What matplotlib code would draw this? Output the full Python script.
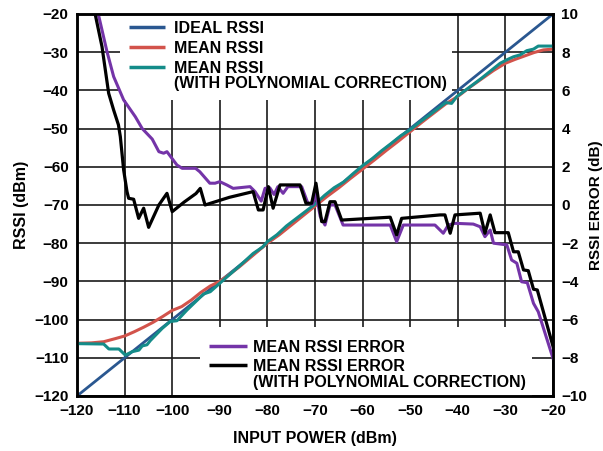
import matplotlib
matplotlib.use("Agg")
import matplotlib.pyplot as plt
from matplotlib.patches import Rectangle

plt.rcParams['font.family'] = ['Liberation Sans', 'DejaVu Sans']
plt.rcParams['font.weight'] = 'bold'

# ideal response
ideal_x = [-120, -20]
ideal_y = [-120, -20]

# mean RSSI (dBm)
mean_x = [-120, -117, -114.4, -112, -110, -108, -106, -104, -102, -100, -98, -96, -94, -92,
          -90, -88, -86, -84, -82, -80, -77.5, -75, -72.5, -70, -67.5, -65, -62.5, -60,
          -57.5, -55, -52.5, -50, -47.5, -45, -42.5, -40, -37.5, -35, -32.5, -30, -28,
          -26, -24, -22, -20]
mean_y = [-106.2, -106.1, -105.8, -105.0, -104.3, -103.2, -102.0, -100.7, -99.2, -97.6,
          -96.6, -94.9, -92.9, -91.2, -90.0, -88.2, -86.3, -84.2, -82.1, -80.0, -77.8,
          -75.3, -72.8, -70.3, -67.8, -65.5, -63.0, -60.6, -58.2, -55.7, -53.3, -50.8,
          -48.3, -45.9, -43.5, -41.6, -39.2, -37.0, -34.8, -32.9, -31.9, -31.0, -30.1,
          -29.4, -29.2]

# mean RSSI with polynomial correction (dBm)
poly_x = [-120, -114.4, -113.3, -111.2, -109.85, -108.4, -107, -106.3, -105.3, -104.6,
          -102.1, -100.4, -99, -96.9, -93.4, -92, -89.2, -87, -85, -83, -81, -80, -78,
          -76, -74, -72, -70, -68, -66, -64, -62, -60, -58, -56, -54, -52, -50, -48,
          -46, -44, -42.5, -41.3, -40.2, -38, -35, -32.9, -31.1, -29.7, -28.3, -26.9,
          -25.5, -24.1, -23.1, -20]
poly_y = [-106.3, -106.4, -107.7, -107.7, -109.3, -108.4, -108.0, -106.9, -106.6, -105.5,
          -102.3, -100.5, -100.3, -97.5, -93.3, -92.7, -89.6, -87.2, -85.0, -82.7, -81.0,
          -79.6, -77.8, -75.5, -73.6, -71.7, -69.8, -67.5, -65.5, -64.0, -61.8, -59.7,
          -57.9, -55.8, -53.9, -51.9, -50.3, -48.3, -46.5, -44.6, -43.2, -43.4, -41.6,
          -39.6, -36.8, -34.7, -32.9, -32.0, -31.2, -30.7, -29.6, -29.2, -28.4, -28.4]

# mean RSSI error (dB)
err_x = [-116.5, -115.4, -113.7, -112.3, -110.2, -107.75, -106.3, -104.2, -102.8, -101.8,
         -101.1, -99.0, -97.9, -95.1, -94.2, -92.1, -91.0, -90.0, -88.55, -87.2, -83.65,
         -82.6, -81.3, -80.5, -79.5, -78.6, -77.8, -76.7, -75.7, -72.8, -71.5, -70.5,
         -69.8, -68.9, -67.9, -66.85, -65.8, -64.1, -54.2, -52.85, -51.45, -44.8, -43.05,
         -42.0, -40.6, -36.75, -35.3, -34.3, -33.2, -32.5, -29.7, -28.7, -27.6, -26.6,
         -25.4, -24.1, -23.1, -20]
err_y = [10.5, 9.86, 8.03, 6.72, 5.5, 4.62, 4.0, 3.45, 2.79, 2.71, 2.79, 2.09, 1.92, 1.92,
         1.74, 1.14, 1.14, 1.22, 1.05, 0.87, 0.96, 0.70, 0.2, 0.87, 0.9, 0.55, 0.96, 0.61,
         0.96, 0.96, 0.09, 0.05, 0.6, -0.6, -1.05, 0.0, 0.0, -1.05, -1.05, -1.92, -1.05,
         -1.05, -1.48, -1.05, -0.96, -1.0, -1.14, -1.66, -1.31, -2.0, -2.09, -2.88, -3.05,
         -4.02, -4.07, -5.15, -5.59, -8.03]

# mean RSSI error with polynomial correction (dB)
perr_x = [-116.6, -116.15, -114.75, -113.35, -112.3, -111.3, -110.9, -110.2, -109.5,
          -109.15, -108.1, -107.05, -106.0, -104.95, -102.8, -101.1, -100.0, -97.5, -95,
          -94.1, -93.1, -88, -83, -81.9, -80.9, -79.8, -78.8, -77.35, -73.15, -71.9,
          -70.7, -69.8, -68.6, -67.9, -66.85, -65.8, -64.4, -54.2, -52.85, -51.8, -43.7,
          -42.7, -41.6, -40.6, -35.3, -34.3, -33.2, -32.2, -29.4, -28.3, -27.3, -26.2,
          -25.2, -24.1, -23.3, -20]
perr_y = [10.3, 9.95, 8.29, 5.85, 4.97, 4.2, 3.58, 1.83, 0.70, 0.35, 0.30, -0.70, -0.17,
          -1.17, 0.0, 0.61, -0.35, 0.15, 0.6, 0.87, 0.0, 0.4, 0.7, -0.26, -0.26, 0.96,
          -0.17, 1.05, 1.05, 0.09, 0.09, 1.14, -0.87, -0.87, 0.17, 0.17, -0.79, -0.64,
          -1.57, -0.70, -0.52, -0.52, -1.48, -0.52, -0.43, -1.48, -0.52, -1.45, -1.45,
          -2.45, -2.45, -3.40, -3.44, -4.41, -4.45, -7.4]

x_ticks = list(range(-120, -19, 10))
rssi_ticks = list(range(-120, -19, 10))
err_ticks = list(range(-10, 11, 2))

c_ideal = '#2a5790'
c_mean = '#d2534b'
c_poly = '#148c89'
c_err = '#7434a8'

fig = plt.figure(figsize=(6.03, 4.51), dpi=100)
ax = fig.add_axes([0.1277, 0.122, 0.7894, 0.847])
ax2 = ax.twinx()

ax.set_axisbelow(True)
ax.grid(True, color='#1a1a1a', linewidth=1.2)

# white boxes behind the legends hide the grid
ax.add_patch(Rectangle((0.0903, 0.775), 0.698, 0.225, transform=ax.transAxes,
                       facecolor='white', edgecolor='none', zorder=1))
ax.add_patch(Rectangle((0.258, 0.0), 0.698, 0.181, transform=ax.transAxes,
                       facecolor='white', edgecolor='none', zorder=1))

ax.plot(ideal_x, ideal_y, color=c_ideal, lw=2.0, zorder=2)
ax.plot(mean_x, mean_y, color=c_mean, lw=2.2, zorder=3)
ax.plot(poly_x, poly_y, color=c_poly, lw=2.2, zorder=4)
ax2.plot(err_x, err_y, color=c_err, lw=2.2)
ax2.plot(perr_x, perr_y, color='black', lw=2.3)


def key(a, x0, x1, xt, rows):
    # hand-placed legend: (y, colour or None, text) in axes fractions
    for y, col, txt in rows:
        if col is not None:
            a.plot([x0, x1], [y, y], color=col, lw=2.5, transform=a.transAxes,
                   solid_capstyle='butt', clip_on=False, zorder=6)
        a.text(xt, y, txt, transform=a.transAxes, fontsize=11.5, fontweight='bold',
               va='center_baseline', ha='left', zorder=6)


key(ax, 0.1086, 0.1855, 0.2031,
    [(0.9652, c_ideal, 'IDEAL RSSI'),
     (0.9129, c_mean, 'MEAN RSSI'),
     (0.8622, c_poly, 'MEAN RSSI'),
     (0.8228, None, '(WITH POLYNOMIAL CORRECTION)')])
key(ax2, 0.2780, 0.3565, 0.3690,
    [(0.1317, c_err, 'MEAN RSSI ERROR'),
     (0.0812, 'black', 'MEAN RSSI ERROR'),
     (0.0380, None, '(WITH POLYNOMIAL CORRECTION)')])

ax.set_xlim(-120, -20)
ax.set_ylim(-120, -20)
ax2.set_ylim(-10, 10)
ax.set_xticks(x_ticks)
ax.set_yticks(rssi_ticks)
ax2.set_yticks(err_ticks)

for a in (ax, ax2):
    a.tick_params(length=0, labelsize=11, pad=6)
    for s in a.spines.values():
        s.set_linewidth(1.8)
        s.set_color('black')

ax.set_xlabel('INPUT POWER (dBm)', fontsize=11.5, fontweight='bold', labelpad=9)
ax.set_ylabel('RSSI (dBm)', fontsize=11.5, fontweight='bold', labelpad=4)
ax2.set_ylabel('RSSI ERROR (dB)', fontsize=11, fontweight='bold', labelpad=1)

fig.savefig('out.png', dpi=100)
